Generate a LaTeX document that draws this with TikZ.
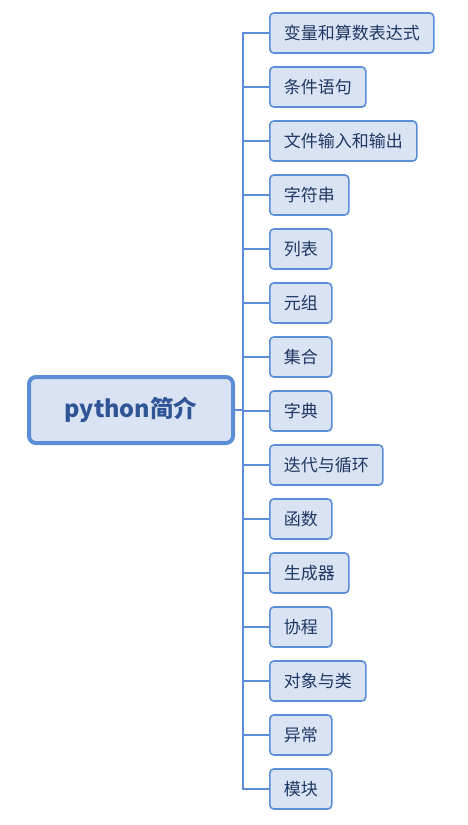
\documentclass[tikz,border=0pt]{standalone}
\usepackage{fontspec}
\setmainfont{Noto Sans CJK SC}
\usetikzlibrary{positioning}
\definecolor{boxfill}{HTML}{DAE3F3}
\definecolor{boxline}{HTML}{5B8ED6}
\definecolor{leaftext}{HTML}{1F3864}
\definecolor{roottext}{HTML}{2F5597}

\tikzset{
    leaf/.style={draw=boxline, fill=boxfill, line width=1.6pt, rounded corners=4pt,
        minimum height=40pt, inner xsep=14pt, text=leaftext,
        font=\fontsize{17}{20}\selectfont, anchor=west},
    rootbox/.style={draw=boxline, fill=boxfill, line width=4pt, rounded corners=7pt,
        minimum width=204pt, minimum height=66pt, text=roottext,
        font=\fontsize{23.5}{27}\selectfont\bfseries},
    link/.style={draw=boxline, line width=1.6pt}
}

\begin{document}
\begin{tikzpicture}[x=1pt, y=-1pt]
    \useasboundingbox (0,0) rectangle (468,825);
    \node[rootbox] (root) at (131,410) {python简介};
    \coordinate (trunk) at (243,410);

    \foreach \t [count=\i] in {变量和算数表达式, 条件语句, 文件输入和输出, 字符串, 列表,
        元组, 集合, 字典, 迭代与循环, 函数, 生成器, 协程, 对象与类, 异常, 模块}
        \node[leaf] (c\i) at (269,{33+54*(\i-1)}) {\t};

    \path[link] (root.east) -- (trunk);
    \foreach \i in {1,...,15}
        \path[link] (trunk) |- (c\i.west);
\end{tikzpicture}
\end{document}
